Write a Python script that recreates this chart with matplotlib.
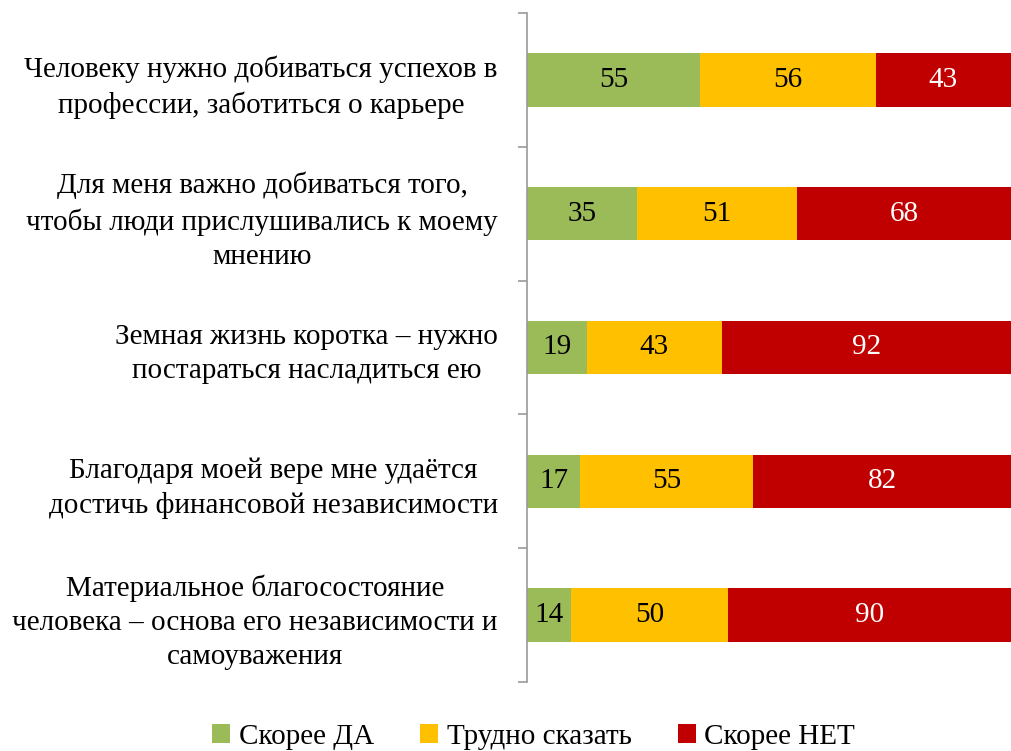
import matplotlib.pyplot as plt
import numpy as np

plt.rcParams['font.family'] = ['Liberation Serif', 'DejaVu Serif']

categories = [
    "Человеку нужно добиваться успехов в\nпрофессии, заботиться о карьере",
    "Для меня важно добиваться того,\nчтобы люди прислушивались к моему\nмнению",
    "Земная жизнь коротка – нужно\nпостараться насладиться ею",
    "Благодаря моей вере мне удаётся\nдостичь финансовой независимости",
    "Материальное благосостояние\nчеловека – основа его независимости и\nсамоуважения",
]
yes_vals = [55, 35, 19, 17, 14]
hard_vals = [56, 51, 43, 55, 50]
no_vals = [43, 68, 92, 82, 90]
series_names = ["Скорее ДА", "Трудно сказать", "Скорее НЕТ"]
colors = ["#9BBB59", "#FFC000", "#C00000"]
text_colors = ["black", "black", "white"]

fig = plt.figure(figsize=(10.11, 7.51), dpi=100)
ax = fig.add_axes([527 / 1011, 1 - 682 / 751, 484 / 1011, 669 / 751])

y = np.arange(len(categories))
left = np.zeros(len(categories))
for vals, name, col, tcol in zip([yes_vals, hard_vals, no_vals], series_names, colors, text_colors):
    bars = ax.barh(y, vals, left=left, height=0.4, color=col, label=name)
    ax.bar_label(bars, labels=[str(v) for v in vals], label_type='center',
                 color=tcol, fontsize=21)
    left += np.array(vals)

ax.set_xlim(0, left.max())
ax.set_ylim(len(categories) - 0.5, -0.5)

# labels at centres, tick marks at the boundaries
ax.set_yticks(y)
ax.set_yticklabels(categories, fontsize=21, multialignment='center', linespacing=1.4)
ax.tick_params(axis='y', which='major', length=0, pad=21)
ax.set_yticks(np.arange(len(categories) + 1) - 0.5, minor=True)
ax.tick_params(axis='y', which='minor', length=6.5, width=1.2, color='#999999')

ax.set_xticks([])
for s in ['top', 'right', 'bottom']:
    ax.spines[s].set_visible(False)
ax.spines['left'].set_color('#999999')
ax.spines['left'].set_linewidth(1.2)

fig.legend(loc='center', bbox_to_anchor=(0.528, 1 - 737 / 751), ncol=3,
           frameon=False, fontsize=21, handlelength=0.6, handleheight=0.6,
           handletextpad=0.3, columnspacing=1.6)

fig.savefig("out.png", dpi=100)
